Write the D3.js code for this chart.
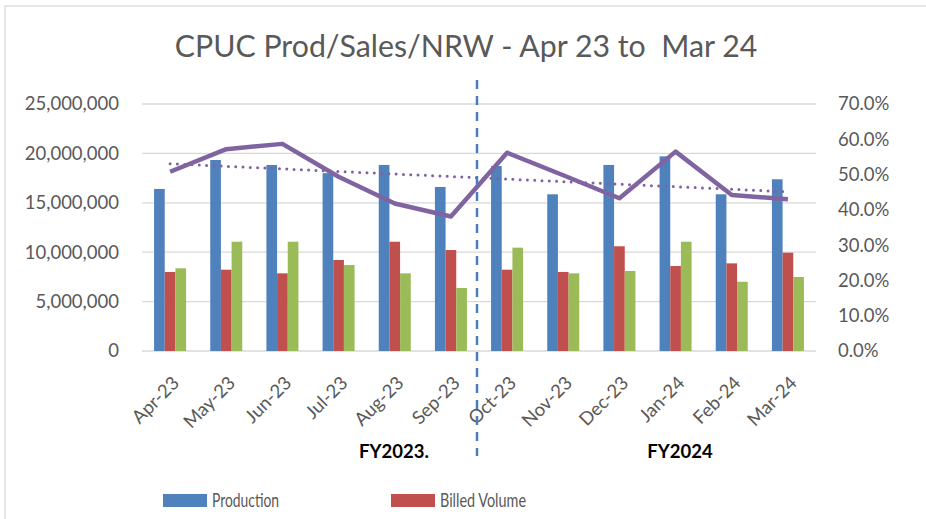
<!DOCTYPE html>
<html>
<head>
<meta charset="utf-8">
<script src="https://cdn.jsdelivr.net/npm/d3@7/dist/d3.min.js"></script>
<style>
  html, body { margin: 0; padding: 0; background: #fff; }
  svg { display: block; font-family: Lato, "Open Sans", sans-serif; }
</style>
</head>
<body>
<div id="chart"></div>
<script>
// months on the x axis
var months = ["Apr-23", "May-23", "Jun-23", "Jul-23", "Aug-23", "Sep-23",
              "Oct-23", "Nov-23", "Dec-23", "Jan-24", "Feb-24", "Mar-24"];
// volumes (left axis)
var production = [16400000, 19330000, 18830000, 18000000, 18830000, 16600000,
                  18720000, 15860000, 18830000, 19700000, 15860000, 17380000];
var billedVolume = [8000000, 8230000, 7860000, 9210000, 11060000, 10220000,
                    8230000, 8000000, 10600000, 8600000, 8870000, 9950000];
var nrwVolume = [8370000, 11060000, 11060000, 8700000, 7860000, 6380000,
                 10460000, 7860000, 8100000, 11060000, 7010000, 7490000];
// NRW percentage (right axis)
var nrwPct = [0.508, 0.572, 0.587, 0.494, 0.418, 0.381,
              0.562, 0.498, 0.433, 0.565, 0.442, 0.430];
var leftTicks = [0, 5000000, 10000000, 15000000, 20000000, 25000000];
var rightTicks = [0, 0.1, 0.2, 0.3, 0.4, 0.5, 0.6, 0.7];
var seriesNames = ["Production", "Billed Volume", "NRW Volume"];
var fiscalYears = ["FY2023.", "FY2024"];

var svgWidth = 926, svgHeight = 519;
var plot = { left: 142, right: 816, top: 104, bottom: 351 };
var colors = ["#4f81bd", "#c0504d", "#9bbb59"];
var textColor = "#595959";

var svg = d3.select("#chart").append("svg")
    .attr("width", svgWidth)
    .attr("height", svgHeight);

// chart area border (only top & left are visible in the crop)
svg.append("rect")
    .attr("x", 5).attr("y", 6)
    .attr("width", 940).attr("height", 540)
    .attr("fill", "none")
    .attr("stroke", "#d9d9d9")
    .attr("stroke-width", 1.3);

// title, sized to fill the same width as the original
var title = svg.append("text")
    .attr("x", 466).attr("y", 57)
    .attr("text-anchor", "middle")
    .attr("fill", textColor)
    .attr("font-size", 28)
    .style("white-space", "pre")
    .text("CPUC Prod/Sales/NRW - Apr 23 to  Mar 24");
var tw = title.node().getComputedTextLength();
title.attr("font-size", 28 * 583 / tw);

// scales
var x = d3.scaleBand()
    .domain(months)
    .range([plot.left, plot.right])
    .paddingInner(0.43)
    .paddingOuter(0.215);

var x1 = d3.scaleBand()
    .domain(seriesNames)
    .range([0, x.bandwidth()]);

var yLeft = d3.scaleLinear()
    .domain([0, 25000000])
    .range([plot.bottom, plot.top]);

var yRight = d3.scaleLinear()
    .domain([0, 0.7])
    .range([plot.bottom, plot.top]);

// gridlines
svg.append("g")
    .selectAll("line")
    .data(leftTicks)
    .enter().append("line")
    .attr("x1", plot.left).attr("x2", plot.right)
    .attr("y1", function (d) { return yLeft(d); })
    .attr("y2", function (d) { return yLeft(d); })
    .attr("stroke", "#d9d9d9")
    .attr("stroke-width", 1.3);

// left axis labels
var leftAxis = svg.append("g")
    .attr("transform", "translate(" + plot.left + ",0)")
    .call(d3.axisLeft(yLeft).tickValues(leftTicks).tickFormat(d3.format(",")).tickSize(0).tickPadding(23));
leftAxis.select(".domain").remove();
leftAxis.selectAll("text")
    .attr("fill", textColor)
    .attr("font-size", 18.5)
    .attr("font-family", "Lato, sans-serif");

// right axis labels
var rightAxis = svg.append("g")
    .attr("transform", "translate(" + plot.right + ",0)")
    .call(d3.axisRight(yRight).tickValues(rightTicks).tickFormat(d3.format(".1%")).tickSize(0).tickPadding(22));
rightAxis.select(".domain").remove();
rightAxis.selectAll("text")
    .attr("fill", textColor)
    .attr("font-size", 18.5)
    .attr("font-family", "Lato, sans-serif");

// bars
var table = months.map(function (m, i) {
    return { month: m, values: [production[i], billedVolume[i], nrwVolume[i]] };
});

var groups = svg.append("g")
    .selectAll("g")
    .data(table)
    .enter().append("g")
    .attr("transform", function (d) { return "translate(" + x(d.month) + ",0)"; });

groups.selectAll("rect")
    .data(function (d) {
        return d.values.map(function (v, j) { return { name: seriesNames[j], value: v, idx: j }; });
    })
    .enter().append("rect")
    .attr("x", function (d) { return x1(d.name); })
    .attr("width", x1.bandwidth())
    .attr("y", function (d) { return yLeft(d.value); })
    .attr("height", function (d) { return yLeft(0) - yLeft(d.value); })
    .attr("fill", function (d) { return colors[d.idx]; });

// x labels, rotated
svg.append("g")
    .selectAll("text")
    .data(months)
    .enter().append("text")
    .attr("transform", function (d) {
        return "translate(" + (x(d) + x.bandwidth() / 2 + 1) + "," + (plot.bottom + 24) + ") rotate(-45)";
    })
    .attr("text-anchor", "end")
    .attr("dy", "0.7em")
    .attr("fill", textColor)
    .attr("font-size", 18.5)
    .text(function (d) { return d; });

// NRW % line
var pctLine = d3.line()
    .x(function (d, i) { return x(months[i]) + x.bandwidth() / 2; })
    .y(function (d) { return yRight(d); });

// linear trendline of NRW %
var idx = d3.range(nrwPct.length);
var mx = d3.mean(idx), my = d3.mean(nrwPct);
var slope = d3.sum(idx, function (i) { return (i - mx) * (nrwPct[i] - my); }) /
            d3.sum(idx, function (i) { return (i - mx) * (i - mx); });
var trend = idx.map(function (i) { return my + slope * (i - mx); });

svg.append("path")
    .datum([trend[0], trend[trend.length - 1]])
    .attr("d", d3.line()
        .x(function (d, i) { return i === 0 ? x(months[0]) + x.bandwidth() / 2 : x(months[months.length - 1]) + x.bandwidth() / 2; })
        .y(function (d) { return yRight(d); }))
    .attr("fill", "none")
    .attr("stroke", "#7f63a1")
    .attr("stroke-width", 3)
    .attr("stroke-linecap", "round")
    .attr("stroke-dasharray", "0,7.3");

svg.append("path")
    .datum(nrwPct)
    .attr("d", pctLine)
    .attr("fill", "none")
    .attr("stroke", "#8064a2")
    .attr("stroke-width", 4.5)
    .attr("stroke-linejoin", "round");

// fiscal year divider
svg.append("line")
    .attr("x1", 477).attr("x2", 477)
    .attr("y1", 80).attr("y2", 456)
    .attr("stroke", "#4a7ebb")
    .attr("stroke-width", 2.5)
    .attr("stroke-dasharray", "9,7");

// fiscal year labels
svg.append("g")
    .selectAll("text")
    .data(fiscalYears)
    .enter().append("text")
    .attr("x", function (d, i) { return i === 0 ? 394 : 680; })
    .attr("y", 458)
    .attr("text-anchor", "middle")
    .attr("font-weight", "bold")
    .attr("font-size", 18.5)
    .attr("fill", "#000")
    .text(function (d) { return d; });

// legend (only first row is in view)
var legendWidths = [67, 86];
var legend = svg.append("g")
    .selectAll("g")
    .data(seriesNames.slice(0, 2))
    .enter().append("g")
    .attr("transform", function (d, i) { return "translate(" + (i === 0 ? 163 : 391) + ",494)"; });

legend.append("rect")
    .attr("width", 44)
    .attr("height", 13)
    .attr("fill", function (d, i) { return colors[i]; });

legend.append("text")
    .attr("x", 49)
    .attr("y", 13)
    .attr("fill", textColor)
    .attr("font-size", 18.5)
    .attr("textLength", function (d, i) { return legendWidths[i]; })
    .attr("lengthAdjust", "spacingAndGlyphs")
    .text(function (d) { return d; });
</script>
</body>
</html>
